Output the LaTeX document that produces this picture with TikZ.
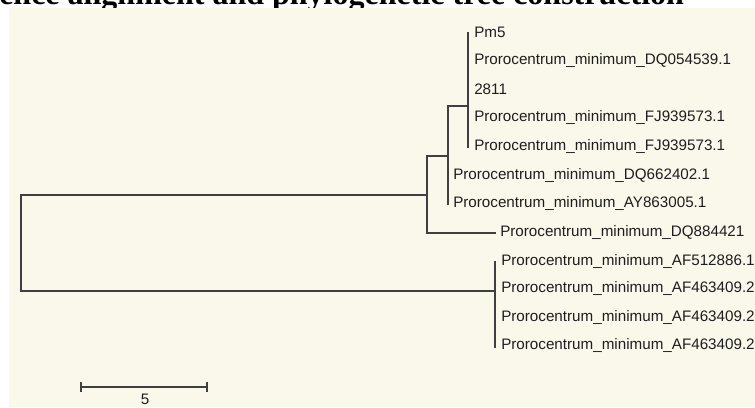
\documentclass[tikz,border=0pt]{standalone}
\usepackage{fontspec}
\setmainfont{Liberation Sans}
\newfontfamily\titlefont{Liberation Serif}
\definecolor{panel}{HTML}{FAF7EB}
\definecolor{branch}{HTML}{404040}
\definecolor{labtxt}{HTML}{1E1E1E}
\begin{document}
\begin{tikzpicture}[x=0.75pt,y=-0.75pt,
  br/.style={draw=branch,line width=1.1pt,line cap=rect},
  tip/.style={anchor=west,inner sep=0pt,text=labtxt,font=\fontsize{11.4}{12}\selectfont},
]
\useasboundingbox (0,0) rectangle (755,407);
\clip (0,0) rectangle (755,407);
\node[anchor=base west,inner sep=0pt,font=\titlefont\bfseries\fontsize{24}{24}\selectfont] (title) at (-1,4) {ence alignment and phylogenetic tree construction};
\fill[panel] (9,7.5) rectangle (755,407);

% tips
\node[tip] (t1) at (474,32) {Pm5};
\node[tip] (t2) at (474,60.5) {Prorocentrum\_minimum\_DQ054539.1};
\node[tip] (t3) at (474,89) {2811};
\node[tip] (t4) at (474,117.5) {Prorocentrum\_minimum\_FJ939573.1};
\node[tip] (t5) at (474,146) {Prorocentrum\_minimum\_FJ939573.1};
\node[tip] (t6) at (453,175) {Prorocentrum\_minimum\_DQ662402.1};
\node[tip] (t7) at (453,203) {Prorocentrum\_minimum\_AY863005.1};
\node[tip] (t8) at (500,232) {Prorocentrum\_minimum\_DQ884421};
\node[tip] (t9) at (501,261) {Prorocentrum\_minimum\_AF512886.1};
\node[tip] (t10) at (501,288.5) {Prorocentrum\_minimum\_AF463409.2};
\node[tip] (t11) at (501,317) {Prorocentrum\_minimum\_AF463409.2};
\node[tip] (t12) at (501,345.5) {Prorocentrum\_minimum\_AF463409.2};

% internal coordinates
\coordinate (c1top) at (468,33);
\coordinate (c1bot) at (468,147);
\coordinate (c1) at (468,106);
\coordinate (aA) at (448,106);
\coordinate (aBot) at (448,204);
\coordinate (aMid) at (448,156);
\coordinate (bTop) at (427,156);
\coordinate (bBot) at (427,233);
\coordinate (dq) at (495,233);
\coordinate (bMid) at (427,195);
\coordinate (rTop) at (21,195);
\coordinate (rBot) at (21,291);
\coordinate (cB) at (495,291);
\coordinate (cBtop) at (495,262);
\coordinate (cBbot) at (495,347);

\draw[br] (c1top) -- (c1bot);
\draw[br] (aA) -- (c1);
\draw[br] (aA) -- (aBot);
\draw[br] (bTop) -- (aMid);
\draw[br] (bTop) -- (bBot) -- (dq);
\draw[br] (rTop) -- (bMid);
\draw[br] (rTop) -- (rBot) -- (cB);
\draw[br] (cBtop) -- (cBbot);

% scale bar
\coordinate (s1) at (81,387);
\coordinate (s2) at (207,387);
\draw[br] (s1) -- (s2);
\draw[br] ([yshift=3.5pt]s1) -- ([yshift=-3.5pt]s1);
\draw[br] ([yshift=3.5pt]s2) -- ([yshift=-3.5pt]s2);
\node[inner sep=0pt,text=labtxt,font=\fontsize{11.4}{12}\selectfont] (scl) at (145,399.5) {5};
\end{tikzpicture}
\end{document}
